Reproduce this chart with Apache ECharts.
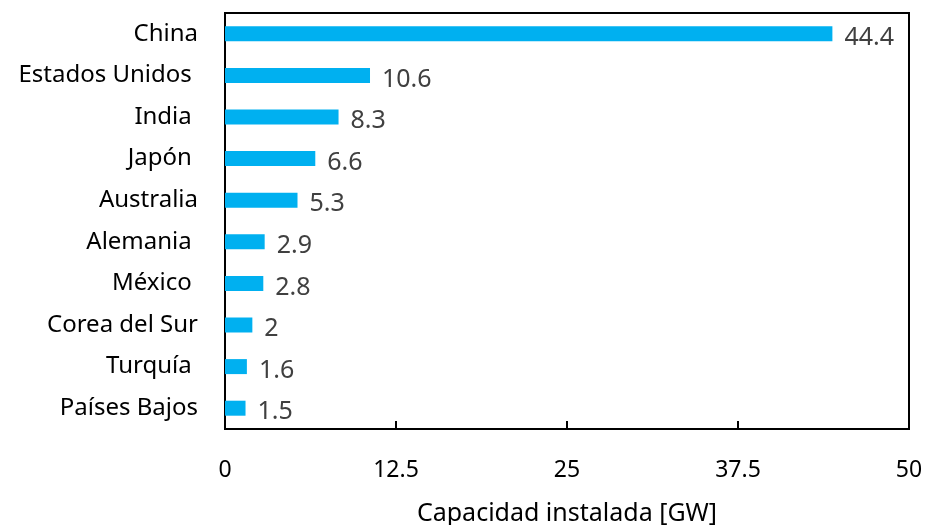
<!DOCTYPE html>
<html>
<head>
<meta charset="utf-8">
<script src="https://cdn.jsdelivr.net/npm/echarts@6/dist/echarts.min.js"></script>
<style>
  html, body { margin: 0; padding: 0; background: #fff; }
  #chart { width: 925px; height: 525px; }
</style>
</head>
<body>
<div id="chart"></div>
<script>
// Countries, listed top to bottom
const countries = ['China', 'Estados Unidos ', 'India ', 'Japón ', 'Australia', 'Alemania ', 'México ', 'Corea del Sur', 'Turquía ', 'Países Bajos'];
// Installed capacity in GW
const capacity = [44.4, 10.6, 8.3, 6.6, 5.3, 2.9, 2.8, 2, 1.6, 1.5];
const xTicks = [0, 12.5, 25, 37.5, 50];

const FONT = '"Noto Sans", "Open Sans", sans-serif';

const chart = echarts.init(document.getElementById('chart'), null, { renderer: 'canvas' });
chart.setOption({
  animation: false,
  grid: {
    left: 225, right: 16, top: 13, bottom: 96,
    outerBoundsMode: 'none',
    show: true, borderColor: '#000', borderWidth: 2, backgroundColor: 'transparent'
  },
  xAxis: {
    type: 'value',
    min: xTicks[0], max: xTicks[xTicks.length - 1], interval: 12.5,
    name: 'Capacidad instalada [GW]',
    nameLocation: 'middle', nameGap: 72,
    nameTextStyle: { fontFamily: FONT, fontSize: 25, color: '#000' },
    axisLine: { show: true, lineStyle: { color: '#000', width: 2 } },
    axisTick: { show: true, inside: true, length: 8, lineStyle: { color: '#000', width: 2 } },
    axisLabel: { fontFamily: FONT, fontSize: 23, color: '#000', margin: 30 },
    splitLine: { show: false }
  },
  yAxis: {
    type: 'category',
    data: countries,
    inverse: true,
    axisLine: { show: true, lineStyle: { color: '#000', width: 2 } },
    axisTick: { show: false },
    axisLabel: { fontFamily: FONT, fontSize: 24, color: '#000', margin: 27, padding: [4, 0, 0, 0] }
  },
  series: [{
    type: 'bar',
    data: capacity,
    barWidth: 15,
    itemStyle: { color: '#00B0F0' },
    label: {
      show: true, position: 'right', distance: 12,
      fontFamily: FONT, fontSize: 25, color: '#404040',
      offset: [0, 4]
    }
  }]
});
</script>
</body>
</html>
